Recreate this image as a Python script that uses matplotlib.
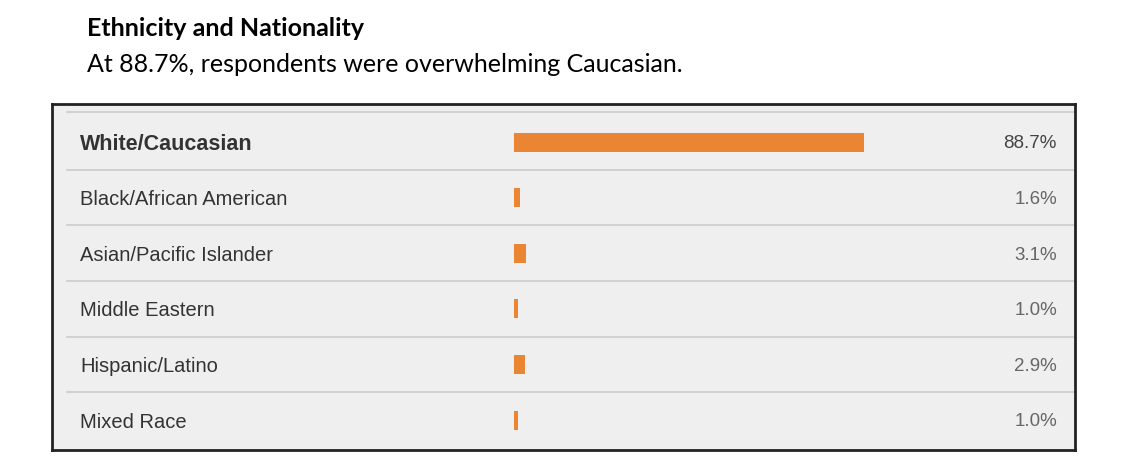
import matplotlib.pyplot as plt

categories = ['White/Caucasian', 'Black/African American', 'Asian/Pacific Islander',
              'Middle Eastern', 'Hispanic/Latino', 'Mixed Race']
percents = [88.7, 1.6, 3.1, 1.0, 2.9, 1.0]
value_labels = ['88.7%', '1.6%', '3.1%', '1.0%', '2.9%', '1.0%']

W, H = 1128, 472
fig = plt.figure(figsize=(W / 100, H / 100), dpi=100)
fig.patch.set_facecolor('white')

# titles (Calibri-like)
fig.text(87 / W, 1 - 28 / H, 'Ethnicity and Nationality', family='Lato',
         fontweight='bold', fontsize=18, va='center', ha='left', color='black')
fig.text(87 / W, 1 - 64 / H, 'At 88.7%, respondents were overwhelming Caucasian.',
         family='Lato', fontsize=18, va='center', ha='left', color='black')

# table box in pixel positions
left, right, top, bottom = 52, 1075, 104, 450
ax = fig.add_axes([left / W, 1 - bottom / H, (right - left) / W, (bottom - top) / H])
ax.set_facecolor('#efefef')

px_per_pct = (864 - 514) / 88.7
x0 = (left - 514) / px_per_pct
x1 = (right - 514) / px_per_pct
ax.set_xlim(x0, x1)
row_px = 55.6
ax.set_ylim(5 + (bottom - 420) / row_px, -(142 - top) / row_px)

ax.barh(range(len(categories)), percents, height=19 / row_px, color='#ea8633', left=0)

sep_x = (67 - 514) / px_per_pct
top_line = -(142 - 112) / row_px
ax.plot([sep_x, x1], [top_line, top_line], color='#cccccc', lw=1.2, zorder=1)
for i in range(len(categories) - 1):
    ax.plot([sep_x, x1], [i + 0.5, i + 0.5], color='#cccccc', lw=1.2, zorder=1)

for i, (cat, val) in enumerate(zip(categories, value_labels)):
    ax.text((80 - 514) / px_per_pct, i, cat, family='Liberation Sans',
            fontsize=15.5 if i == 0 else 14.5,
            fontweight='bold' if i == 0 else 'normal', va='center_baseline', ha='left',
            color='#333333')
    ax.text((1057 - 514) / px_per_pct, i, val, family='Liberation Sans', fontsize=13.5,
            va='center_baseline', ha='right', color='#444444' if i == 0 else '#666666')

ax.set_xticks([])
ax.set_yticks([])
for s in ax.spines.values():
    s.set_color('#222222')
    s.set_linewidth(2)

fig.savefig('out.png', dpi=100)
